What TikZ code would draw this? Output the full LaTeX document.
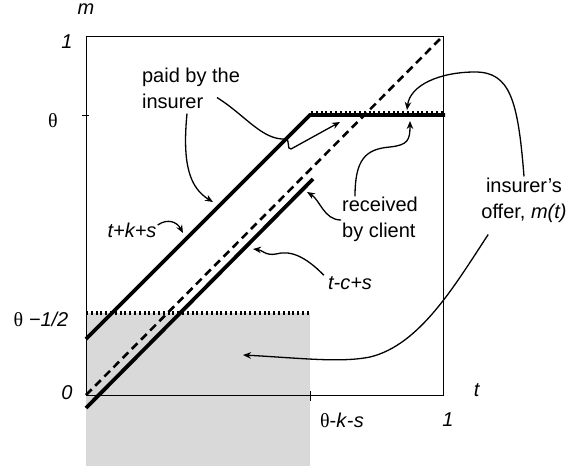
\documentclass[tikz,border=0pt]{standalone}
\usepackage{fontspec}
\setmainfont{Liberation Sans}
\newfontfamily\thetafont{Liberation Serif}
\usetikzlibrary{arrows.meta,calc}

\newcommand{\thet}{{\thetafont θ}}

\tikzset{
  frame/.style={line width=0.8pt},
  payline/.style={line width=3.8pt},
  offerline/.style={line width=3.2pt,dash pattern=on 2pt off 2.8pt},
  diagline/.style={line width=2.6pt,dash pattern=on 8pt off 5pt},
  pointer/.style={line width=1.3pt,-{Stealth[length=8pt,width=6.5pt]}},
  lbl/.style={font=\fontsize{20}{26}\selectfont,inner sep=1pt}
}

\begin{document}
\begin{tikzpicture}[x=1pt,y=-1pt]
  \useasboundingbox (0,0) rectangle (572,470);

  % shaded area under the low offer
  \fill[black!15] (86,313) rectangle (310,466);

  % axes, box and ticks
  \draw[frame] (86,36) -- (86,395) -- (443,395) -- (443,36) -- cycle;
  \draw[frame] (82,115) -- (89,115);
  \draw[frame] (310,391) -- (310,401);

  % 45 degree line
  \draw[diagline] (86,395) -- (443,36);

  % payment lines
  \draw[payline] (86,339) -- (310,115) -- (445,115);
  \draw[payline] (86,408) -- (313,179);

  % insurer's offer m(t)
  \draw[offerline] (86,313) -- (310,313);
  \draw[offerline] (311,112.5) -- (445,112.5);

  % axis labels
  \node[lbl] (mlab) at (86,9) {\textit{m}};
  \node[lbl] (onem) at (67,42) {\textit{1}};
  \node[lbl] (thm) at (53,121) {\thet};
  \node[lbl] (thhalf) at (41,319) {\thet\ \textit{−1/2}};
  \node[lbl] (zero) at (67,393) {\textit{0}};
  \node[lbl] (tlab) at (477,390) {\textit{t}};
  \node[lbl] (onet) at (448,420) {\textit{1}};
  \node[lbl] (thks) at (342,420) {\thet-\textit{k}-\textit{s}};

  % text labels
  \node[lbl,align=left] (paid) at (191,88) {paid by the\\insurer};
  \node[lbl] (kks) at (132,230) {\textit{t+k+s}};
  \node[lbl,align=left] (rcv) at (380,219) {received\\by client};
  \node[lbl] (tcs) at (350,283) {\textit{t-c+s}};
  \node[lbl,align=center] (ins) at (524,200) {insurer's\\offer, \textit{m(t)}};

  % arrow ends on the lines
  \coordinate (tippay) at (213,202);
  \coordinate (tiptop) at (340,122);
  \coordinate (tipkks) at (183,233);
  \coordinate (tiprcv) at (410,121);
  \coordinate (tiplow) at (307,192);
  \coordinate (tiptcs) at (253,249);
  \coordinate (tipoff) at (407,110);
  \coordinate (tipgray) at (243,355);

  % pointers
  \draw[pointer] ($(paid.south)+(-4,4)$) .. controls (182,165) and (190,188) .. (tippay);
  \draw[pointer] ($(paid.south)+(26,-12)$) .. controls (245,115) and (262,140) .. (285,139)
     .. controls (291,139) and (286,150) .. (291,149) -- (tiptop);
  \draw[pointer] ($(kks.east)+(0,-5)$) .. controls (168,218) and (177,222) .. (tipkks);
  \draw[pointer] ($(rcv.north west)+(14,1)$) .. controls (355,160) and (365,149) .. (390,147)
     .. controls (408,145) and (410,140) .. (tiprcv);
  \draw[pointer] ($(rcv.west)+(0,1)$) .. controls (324,220) and (320,200) .. (tiplow);
  \draw[pointer] ($(tcs.north west)+(-3,0)$) .. controls (305,256) and (290,250) .. (276,254)
     .. controls (266,256) and (262,250) .. (tiptcs);
  \draw[pointer] (ins.north) .. controls (518,100) and (510,72) .. (475,72)
     .. controls (440,72) and (410,85) .. (tipoff);
  \draw[pointer] ($(ins.south west)+(8,11)$) .. controls (455,285) and (420,345) .. (370,357)
     .. controls (340,363) and (300,358) .. (tipgray);
\end{tikzpicture}
\end{document}
